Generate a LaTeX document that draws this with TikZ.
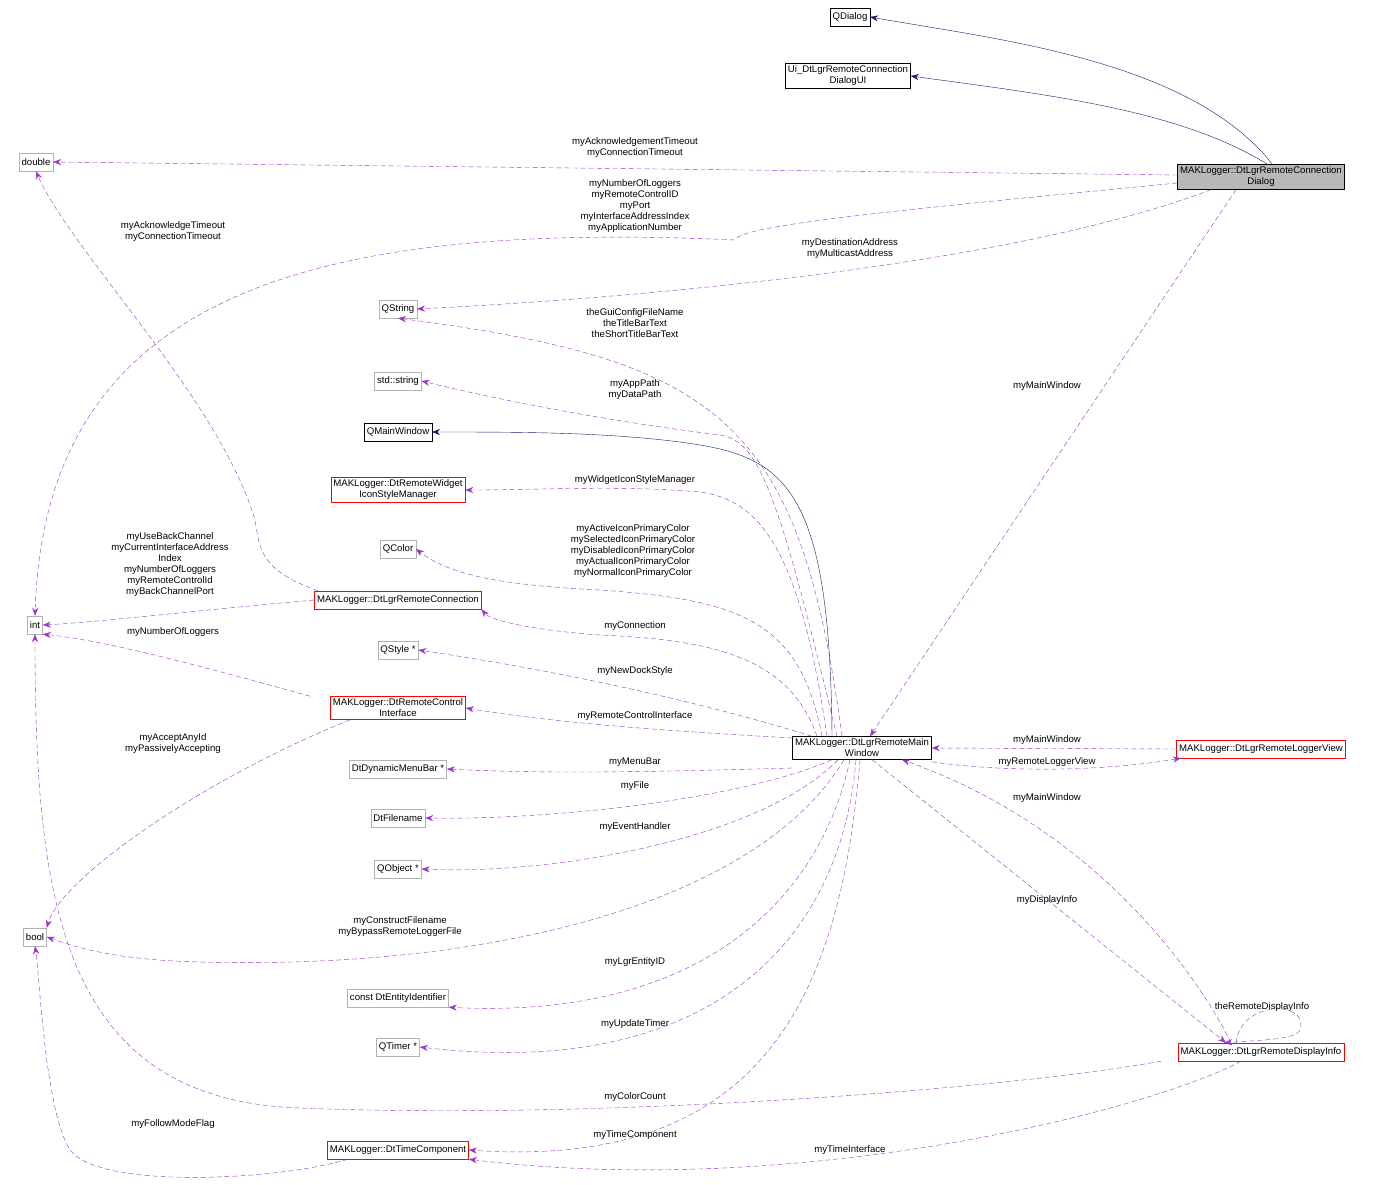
\documentclass[tikz,border=0pt]{standalone}
\usepackage{fontspec}
\setmainfont{Liberation Sans}
\usetikzlibrary{arrows.meta}
\definecolor{dep}{HTML}{9A32CD}
\definecolor{inh}{HTML}{191970}
\begin{document}
\begin{tikzpicture}[x=1pt,y=-1pt,font=\fontsize{9.6}{11}\selectfont,
 box/.style={draw=#1,fill=white,align=center,inner sep=2.5pt,minimum height=18pt},
 box/.default=black,
 gbox/.style={box=black!30},
 rbox/.style={box=red},
 d/.style={draw=dep,dashed,dash pattern=on 5pt off 3pt,-{Stealth[length=8pt,width=6pt]}},
 i/.style={draw=inh,-{Stealth[length=8pt,width=6pt]}},
 lab/.style={align=center,inner sep=0pt,font=\fontsize{9.6}{11}\selectfont}]
\useasboundingbox (0,0) rectangle (1389,1185);
\node[box] (qd) at (850,17) {QDialog};
\node[box] (ui) at (848,76) {Ui\_DtLgrRemoteConnection\\DialogUI};
\node[box,fill=black!28] (dlg) at (1261,177) {MAKLogger::DtLgrRemoteConnection\\Dialog};
\node[gbox] (dbl) at (36,162) {double};
\node[gbox] (int) at (35,625) {int};
\node[gbox] (qs) at (398,309) {QString};
\node[gbox] (ss) at (398,381) {std::string};
\node[box] (qmw) at (398,432) {QMainWindow};
\node[rbox] (ism) at (398,490) {MAKLogger::DtRemoteWidget\\IconStyleManager};
\node[gbox] (qc) at (398,549) {QColor};
\node[rbox] (rc) at (398,600) {MAKLogger::DtLgrRemoteConnection};
\node[gbox] (qst) at (398,650) {QStyle *};
\node[rbox] (rci) at (398,708) {MAKLogger::DtRemoteControl\\Interface};
\node[gbox] (mb) at (398,769) {DtDynamicMenuBar *};
\node[gbox] (fn) at (398,818) {DtFilename};
\node[gbox] (qo) at (398,869) {QObject *};
\node[gbox] (bool) at (35,937) {bool};
\node[gbox] (ei) at (398,998) {const DtEntityIdentifier};
\node[gbox] (qt) at (398,1047) {QTimer *};
\node[rbox] (tc) at (398,1150) {MAKLogger::DtTimeComponent};
\node[box] (mw) at (862,748) {MAKLogger::DtLgrRemoteMain\\Window};
\node[rbox] (lv) at (1261,749) {MAKLogger::DtLgrRemoteLoggerView};
\node[rbox] (di) at (1261,1052) {MAKLogger::DtLgrRemoteDisplayInfo};

\draw[i] (dlg.north west)++(95,0) .. controls (1190,60) and (1000,40) .. (qd.east);
\draw[i] (dlg.north west)++(90,0) .. controls (1180,110) and (1050,95) .. (ui.east);
\draw[d] (dlg.west) ++(0,-2) -- (dbl.east);
\draw[d] (dlg.west) ++(0,6) .. controls (900,210) and (740,225) .. (735,240) .. controls (300,220) and (45,300) .. (int.north);
\draw[d] ([xshift=-50pt]dlg.south) .. controls (1000,270) and (600,300) .. (qs.east);
\draw[d] ([xshift=-25pt]dlg.south) -- ([xshift=8pt]mw.north);
\draw[d] ([xshift=-20pt]mw.north) .. controls (800,420) and (720,360) .. (qs.south);
\draw[d] ([xshift=-25pt]mw.north) .. controls (780,500) and (760,440) .. (720,435) .. controls (600,420) and (500,400) .. (ss.east);
\draw[i] ([xshift=-30pt]mw.north) .. controls (830,500) and (790,460) .. (700,445) .. controls (620,432) and (520,432) .. (qmw.east);
\draw[d] ([xshift=-35pt]mw.north) .. controls (800,550) and (760,500) .. (700,492) .. controls (620,485) and (540,490) .. (ism.east);
\draw[d] ([xshift=-40pt]mw.north) .. controls (800,620) and (740,600) .. (600,590) .. controls (500,585) and (450,575) .. (qc.east);
\draw[d] ([xshift=-45pt]mw.north) .. controls (790,660) and (720,640) .. (600,635) .. controls (530,630) and (490,620) .. (rc.south east);
\draw[d] ([xshift=-50pt]mw.north) .. controls (760,720) and (620,680) .. (qst.east);
\draw[d] (mw.west) ++(0,-10) .. controls (650,730) and (550,722) .. (rci.east);
\draw[d] (mw.west) ++(0,20) .. controls (650,772) and (550,774) .. (mb.east);
\draw[d] ([xshift=-30pt]mw.south) .. controls (740,800) and (550,820) .. (fn.east);
\draw[d] ([xshift=-24pt]mw.south) .. controls (760,840) and (550,875) .. (qo.east);
\draw[d] ([xshift=-18pt]mw.south) .. controls (760,900) and (500,970) .. (200,962) .. controls (110,960) and (70,945) .. (bool.east);
\draw[d] ([xshift=-12pt]mw.south) .. controls (820,900) and (700,1020) .. (ei.south east);
\draw[d] ([xshift=-6pt]mw.south) .. controls (840,950) and (700,1080) .. (qt.east);
\draw[d] ([xshift=-2pt]mw.south) .. controls (840,1000) and (760,1170) .. (tc.east);
\draw[d] ([xshift=-80pt]rc.north) .. controls (260,570) and (260,550) .. (255,520) .. controls (220,400) and (70,250) .. (dbl.south);
\draw[d] (rc.west) .. controls (200,610) and (100,622) .. (int.east);
\draw[d] ([xshift=-20pt]rci.north west) .. controls (180,660) and (100,640) .. (int.south east);
\draw[d] ([xshift=20pt]rci.south west) .. controls (200,780) and (60,880) .. (bool.north east);
\draw[d] (lv.west) -- (mw.east);
\draw[d] ([yshift=-2pt]mw.south east) .. controls (1000,772) and (1100,772) .. ([xshift=-80pt]lv.south);
\draw[d] ([xshift=-30pt]di.north) .. controls (1200,980) and (1100,830) .. ([xshift=40pt]mw.south);
\draw[d] ([xshift=10pt]mw.south) -- ([xshift=-35pt]di.north);
\draw[d] ([xshift=-25pt]di.north) .. controls (1240,1000) and (1310,1000) .. (1300,1030) .. controls (1295,1040) and (1260,1040) .. ([xshift=-37pt]di.north);
\draw[d] ([xshift=-100pt]di.south) .. controls (1000,1090) and (600,1120) .. (300,1108) .. controls (60,1100) and (35,900) .. (int.south);
\draw[d] ([xshift=-20pt]di.south) .. controls (1150,1110) and (800,1200) .. (tc.south east);
\draw[d] ([xshift=-50pt]tc.south) .. controls (280,1180) and (100,1190) .. (70,1150) .. controls (45,1110) and (40,980) .. (bool.south);

\node[lab] at (635,148) {myAcknowledgementTimeout\\myConnectionTimeout};
\node[lab] at (635,206) {myNumberOfLoggers\\myRemoteControlID\\myPort\\myInterfaceAddressIndex\\myApplicationNumber};
\node[lab] at (850,249) {myDestinationAddress\\myMulticastAddress};
\node[lab] at (1047,386) {myMainWindow};
\node[lab] at (635,323) {theGuiConfigFileName\\theTitleBarText\\theShortTitleBarText};
\node[lab] at (635,390) {myAppPath\\myDataPath};
\node[lab] at (635,480) {myWidgetIconStyleManager};
\node[lab] at (633,551) {myActiveIconPrimaryColor\\mySelectedIconPrimaryColor\\myDisabledIconPrimaryColor\\myActualIconPrimaryColor\\myNormalIconPrimaryColor};
\node[lab] at (635,626) {myConnection};
\node[lab] at (635,671) {myNewDockStyle};
\node[lab] at (635,716) {myRemoteControlInterface};
\node[lab] at (635,762) {myMenuBar};
\node[lab] at (635,786) {myFile};
\node[lab] at (635,827) {myEventHandler};
\node[lab] at (400,927) {myConstructFilename\\myBypassRemoteLoggerFile};
\node[lab] at (635,962) {myLgrEntityID};
\node[lab] at (635,1024) {myUpdateTimer};
\node[lab] at (635,1135) {myTimeComponent};
\node[lab] at (173,232) {myAcknowledgeTimeout\\myConnectionTimeout};
\node[lab] at (170,565) {myUseBackChannel\\myCurrentInterfaceAddress\\Index\\myNumberOfLoggers\\myRemoteControlId\\myBackChannelPort};
\node[lab] at (173,632) {myNumberOfLoggers};
\node[lab] at (173,744) {myAcceptAnyId\\myPassivelyAccepting};
\node[lab] at (1047,740) {myMainWindow};
\node[lab] at (1047,762) {myRemoteLoggerView};
\node[lab] at (1047,798) {myMainWindow};
\node[lab] at (1047,900) {myDisplayInfo};
\node[lab] at (1262,1007) {theRemoteDisplayInfo};
\node[lab] at (635,1097) {myColorCount};
\node[lab] at (850,1150) {myTimeInterface};
\node[lab] at (173,1124) {myFollowModeFlag};
\end{tikzpicture}
\end{document}
